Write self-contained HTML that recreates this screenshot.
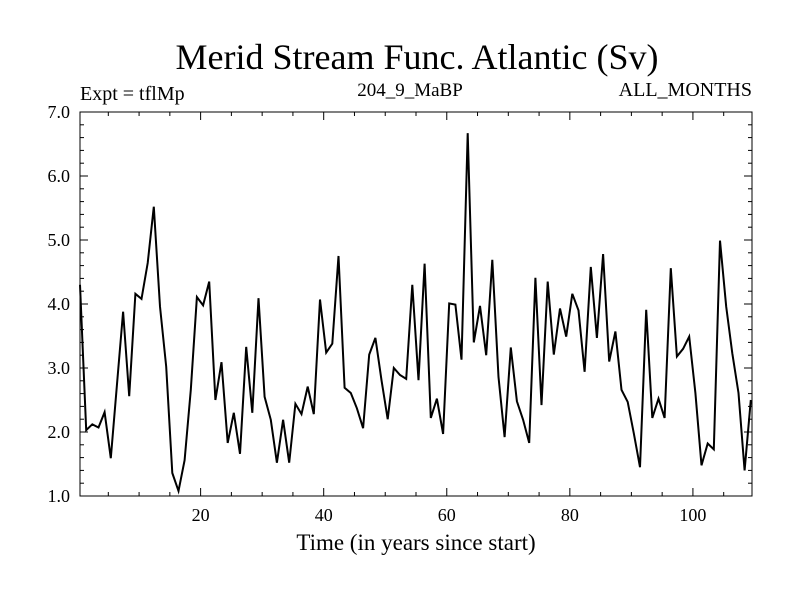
<!DOCTYPE html>
<html><head><meta charset="utf-8"><style>
body{margin:0;background:#fff}
svg text{font-family:"Liberation Serif",serif;fill:#000}
</style></head><body>
<svg id="chart" width="800" height="600" xmlns="http://www.w3.org/2000/svg">
<text x="417" y="69" font-size="36" text-anchor="middle">Merid Stream Func. Atlantic (Sv)</text>
<text x="80" y="100" font-size="20">Expt = tflMp</text>
<text x="410" y="96" font-size="19" text-anchor="middle">204_9_MaBP</text>
<text x="752" y="96" font-size="20" text-anchor="end">ALL_MONTHS</text>
<text x="416" y="550" font-size="23" text-anchor="middle">Time (in years since start)</text>
<g id="axes"></g>
<polyline id="series" fill="none" stroke="#000" stroke-width="2" stroke-linejoin="miter"/>
<rect x="80" y="112" width="672" height="384" fill="none" stroke="#000" stroke-width="1"/>
</svg>
<script>
const values=[4.30,2.03,2.12,2.07,2.31,1.59,2.73,3.88,2.56,4.16,4.08,4.64,5.52,3.96,3.02,1.36,1.08,1.56,2.66,4.11,3.98,4.35,2.50,3.09,1.83,2.30,1.66,3.33,2.30,4.09,2.55,2.19,1.52,2.19,1.52,2.44,2.28,2.71,2.28,4.07,3.24,3.38,4.75,2.69,2.61,2.37,2.06,3.21,3.47,2.81,2.20,3.00,2.89,2.83,4.30,2.81,4.63,2.22,2.52,1.97,4.01,3.99,3.13,6.67,3.40,3.97,3.20,4.69,2.86,1.92,3.32,2.48,2.19,1.83,4.41,2.42,4.35,3.21,3.93,3.49,4.16,3.90,2.94,4.58,3.47,4.78,3.10,3.57,2.66,2.47,1.98,1.45,3.91,2.22,2.52,2.22,4.56,3.18,3.30,3.49,2.61,1.48,1.82,1.73,4.99,3.96,3.23,2.61,1.40,2.50];
const xStart=0.4;
const xMajorTicks=[20,40,60,80,100];
const yTickLabels=["1.0","2.0","3.0","4.0","5.0","6.0","7.0"];
const yTickValues=[1,2,3,4,5,6,7];
const L=80,R=752,T=112,B=496,xmin=0.4,xmax=109.6,ymin=1,ymax=7;
const sx=v=>L+(v-xmin)/(xmax-xmin)*(R-L);
const sy=v=>B-(v-ymin)/(ymax-ymin)*(B-T);
const NS="http://www.w3.org/2000/svg";
const axes=document.getElementById('axes');
function line(x1,y1,x2,y2,name){const l=document.createElementNS(NS,'line');
l.setAttribute('x1',x1);l.setAttribute('y1',y1);l.setAttribute('x2',x2);l.setAttribute('y2',y2);
l.setAttribute('stroke','#000');l.setAttribute('stroke-width','1');


axes.appendChild(l);}
function text(x,y,s,anchor,name){const t=document.createElementNS(NS,'text');
t.setAttribute('x',x);t.setAttribute('y',y);t.setAttribute('font-size','18');t.setAttribute('text-anchor',anchor);t.textContent=s;


axes.appendChild(t);}
for(let v=5;v<=105;v+=5){const x=sx(v);const major=v%20===0;const len=major?8:4;
line(x,B,x,B-len,'x-tick');line(x,T,x,T+len,'x-tick-top');}
xMajorTicks.forEach(v=>text(sx(v),521,String(v),'middle','x-tick-label'));
for(let k=0;k<=30;k++){const v=1+k*0.2;const y=sy(v);const major=k%5===0;const len=major?8:4;
line(L,y,L+len,y,'y-tick');line(R,y,R-len,y,'y-tick-right');}
yTickValues.forEach((v,i)=>text(70,sy(v)+6,yTickLabels[i],'end','y-tick-label'));
document.getElementById('series').setAttribute('points',values.map((v,i)=>sx(xStart+i).toFixed(1)+','+sy(v).toFixed(1)).join(' '));
</script>
</body></html>
